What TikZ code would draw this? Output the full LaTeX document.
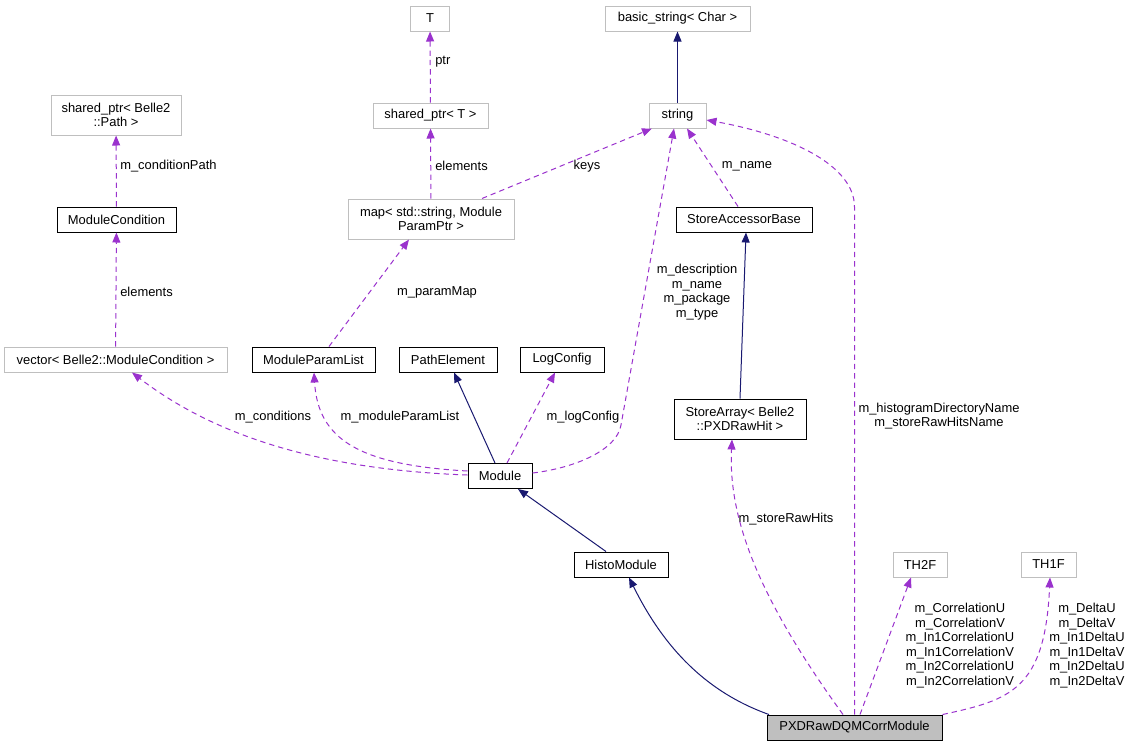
\documentclass[tikz,border=0pt]{standalone}
\usepackage{xcolor}
\definecolor{usage}{HTML}{9A32CD}
\definecolor{inherit}{HTML}{191970}
\definecolor{undoc}{HTML}{BFBFBF}
\usepackage{fontspec}
\setmainfont{Liberation Sans}
\usepackage{tikz}
\usetikzlibrary{arrows.meta}

\begin{document}
\begin{tikzpicture}[x=0.75pt, y=-0.75pt,
    every node/.style={font=\fontsize{9.7pt}{10.95pt}\selectfont, inner sep=0pt},
    cls/.style={draw=black, line width=0.75pt, minimum height=18.75pt, align=center},
    ext/.style={cls, draw=undoc},
    lbl/.style={align=center},
    use/.style={draw=usage, line width=0.75pt, dash pattern=on 4pt off 3pt,
      -{Triangle[length=7.5pt, width=6pt, fill=usage]}},
    inh/.style={draw=inherit, line width=0.75pt,
      -{Triangle[length=7.5pt, width=6pt, fill=inherit]}}]
  \useasboundingbox (0,0) rectangle (1131,747);
  % classes
  \node[ext, minimum width=29.25pt] (T) at (430,18.5) {T};
  \node[ext, minimum width=108.75pt] (bstr) at (677.5,18.5) {basic\_string< Char >};
  \node[ext, minimum width=97.5pt, minimum height=30pt] (sptrP) at (116,115) {shared\_ptr< Belle2\\::Path >};
  \node[ext, minimum width=86.25pt] (sptrT) at (430.5,115.5) {shared\_ptr< T >};
  \node[ext, minimum width=42.75pt] (str) at (677.5,115.5) {string};
  \node[cls, minimum width=89.25pt] (mcond) at (116.5,219.5) {ModuleCondition};
  \node[ext, minimum width=124.5pt, minimum height=30pt] (pmap) at (431,219) {map< std::string, Module\\ParamPtr >};
  \node[cls, minimum width=102pt] (sab) at (744,219.5) {StoreAccessorBase};
  \node[ext, minimum width=167.25pt] (vec) at (115.5,359.5) {vector< Belle2::ModuleCondition >};
  \node[cls, minimum width=92.25pt] (mpl) at (313.5,359.5) {ModuleParamList};
  \node[cls, minimum width=73.5pt] (pel) at (448,359.5) {PathElement};
  \node[cls, minimum width=63pt] (logc) at (562,359.5) {LogConfig};
  \node[cls, minimum width=99pt, minimum height=30pt] (sarr) at (740,419) {StoreArray< Belle2\\::PXDRawHit >};
  \node[cls, minimum width=48pt] (mod) at (500,476) {Module};
  \node[cls, minimum width=70.5pt] (hist) at (621,564.5) {HistoModule};
  \node[ext, minimum width=40.5pt] (thtwo) at (920,564.5) {TH2F};
  \node[ext, minimum width=41.25pt] (thone) at (1048.5,564.5) {TH1F};
  \node[cls, fill=undoc, minimum width=131.25pt] (pxd) at (854.5,727.5) {PXDRawDQMCorrModule};
  % member labels
  \node[lbl, anchor=west] (lptr) at (435,62) {ptr};
  \node[lbl, anchor=west] (lelemA) at (435,166) {elements};
  \node[lbl] (lkeys) at (587,166) {keys};
  \node[lbl, anchor=west] (lcondpath) at (120,166) {m\_conditionPath};
  \node[lbl, anchor=west] (lelemB) at (120,292) {elements};
  \node[lbl] (lparammap) at (437,292) {m\_paramMap};
  \node[lbl] (lname) at (747,166) {m\_name};
  \node[lbl] (ldesc) at (697,292) {m\_description\\m\_name\\m\_package\\m\_type};
  \node[lbl] (lconds) at (273,417) {m\_conditions};
  \node[lbl] (lmpl) at (400,417) {m\_moduleParamList};
  \node[lbl] (llog) at (583,417) {m\_logConfig};
  \node[lbl] (lhistdir) at (939,416) {m\_histogramDirectoryName\\m\_storeRawHitsName};
  \node[lbl] (lraw) at (786,519) {m\_storeRawHits};
  \node[lbl] (lcorr) at (960,645.5) {m\_CorrelationU\\m\_CorrelationV\\m\_In1CorrelationU\\m\_In1CorrelationV\\m\_In2CorrelationU\\m\_In2CorrelationV};
  \node[lbl] (ldelta) at (1087,645.5) {m\_DeltaU\\m\_DeltaV\\m\_In1DeltaU\\m\_In1DeltaV\\m\_In2DeltaU\\m\_In2DeltaV};
  % inheritance
  \draw[inh] (str) -- (bstr);
  \draw[inh] (740,0 |- sarr.north) -- (746,0 |- sab.south);
  \draw[inh] (495,0 |- mod.north) -- (454,0 |- pel.south);
  \draw[inh] (606,0 |- hist.north) -- (518,0 |- mod.south);
  \draw[inh] (769,0 |- pxd.north) .. controls (700,690) and (660,640) .. (629,0 |- hist.south);
  % usage
  \draw[use] (sptrT) -- (T);
  \draw[use] (pmap) -- (sptrT);
  \draw[use] (482,0 |- pmap.north) -- (652,0 |- str.south);
  \draw[use] (mcond) -- (sptrP);
  \draw[use] (vec) -- (mcond);
  \draw[use] (329,0 |- mpl.north) -- (409,0 |- pmap.south);
  \draw[use] (738,0 |- sab.north) -- (687,0 |- str.south);
  \draw[use] (mod.west |- 0,475) .. controls (330,470) and (220,440) .. (132,0 |- vec.south);
  \draw[use] (mod.west |- 0,471) .. controls (360,465) and (318,440) .. (314,0 |- mpl.south);
  \draw[use] (507,0 |- mod.north) -- (555,0 |- logc.south);
  \draw[use] (mod.east |- 0,473) .. controls (575,468) and (617,450) .. (621,425) -- (674,0 |- str.south);
  \draw[use] (843,0 |- pxd.north) .. controls (760,600) and (728,520) .. (732,0 |- sarr.south);
  \draw[use] (pxd.north) -- (854.5,207) .. controls (854.5,165) and (790,135) .. (str.east |- 0,120);
  \draw[use] (860,0 |- pxd.north) -- (911,0 |- thtwo.south);
  \draw[use] (pxd.north east) .. controls (1010,700) and (1045,690) .. (1050,0 |- thone.south);
\end{tikzpicture}
\end{document}
